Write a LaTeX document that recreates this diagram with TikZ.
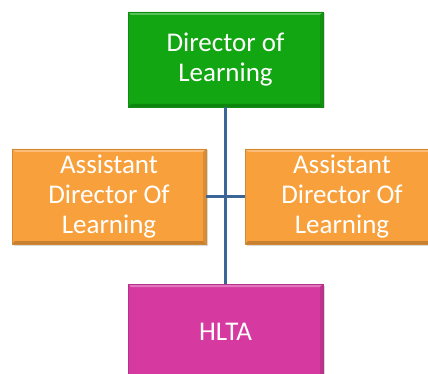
\documentclass[tikz,border=0pt]{standalone}
\usepackage{fontspec}
\setmainfont{Carlito}
\usetikzlibrary{shadows}
\definecolor{dgreen}{HTML}{12A612}
\definecolor{dorange}{HTML}{F8A03B}
\definecolor{dmagenta}{HTML}{D63AA1}
\definecolor{dline}{HTML}{3B6798}
\tikzset{
  box/.style={draw=#1!85!black, line width=0.8pt, fill=#1, text=white,
    minimum width=195pt, minimum height=95pt, inner sep=0pt, align=center,
    font=\fontsize{27}{30}\selectfont,
    drop shadow={opacity=0.3, shadow xshift=1.5pt, shadow yshift=-1.5pt},
    path picture={
      \fill[#1!70!white] (path picture bounding box.north west) -- (path picture bounding box.north east)
        -- ([xshift=-3pt,yshift=-3pt]path picture bounding box.north east) -- ([xshift=3pt,yshift=-3pt]path picture bounding box.north west) -- cycle;
      \fill[#1!80!black] (path picture bounding box.south west) -- (path picture bounding box.south east)
        -- ([xshift=-3pt,yshift=3pt]path picture bounding box.south east) -- ([xshift=3pt,yshift=3pt]path picture bounding box.south west) -- cycle;
      \fill[#1!88!black] (path picture bounding box.north east) -- (path picture bounding box.south east)
        -- ([xshift=-3pt,yshift=3pt]path picture bounding box.south east) -- ([xshift=-3pt,yshift=-3pt]path picture bounding box.north east) -- cycle;
    }},
  conn/.style={draw=dline, line width=2.5pt}
}
\begin{document}
\begin{tikzpicture}[x=1pt,y=-1pt]
\useasboundingbox (0,0) rectangle (428,374);
\clip (0,0) rectangle (428,374);
\node[box=dgreen] (dir) at (225.5,59.5) {Director of\\Learning};
\node[box=dorange, minimum width=194pt] (adl) at (109,196.5) {Assistant\\Director Of\\Learning};
\node[box=dorange, minimum width=194pt] (adr) at (342,196.5) {Assistant\\Director Of\\Learning};
\node[box=dmagenta, minimum height=96pt] (hlta) at (225.5,332) {HLTA};
\draw[conn] (dir.south) -- (hlta.north);
\draw[conn] (adl.east) -- (adr.west);
\end{tikzpicture}
\end{document}
